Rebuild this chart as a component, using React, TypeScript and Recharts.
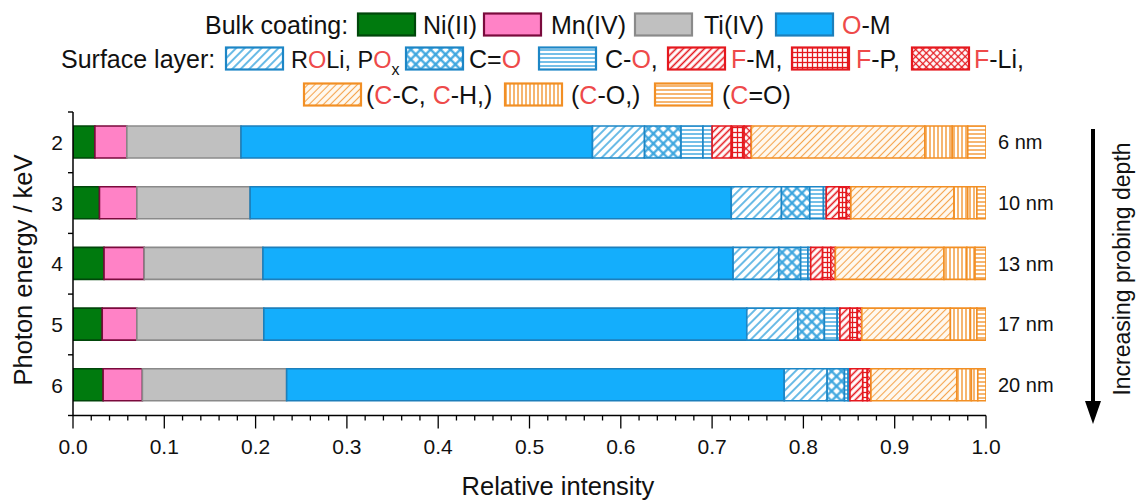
import React from "react";
import { BarChart, Bar, XAxis, YAxis, LabelList } from "recharts";

// photon energy (keV) categories and the probing depth written on the right
const energies = ["2", "3", "4", "5", "6"];
const depths = ["6 nm", "10 nm", "13 nm", "17 nm", "20 nm"];

// bulk coating
const niII = [0.024, 0.029, 0.034, 0.032, 0.033];
const mnIV = [0.035, 0.041, 0.044, 0.038, 0.043];
const tiIV = [0.125, 0.124, 0.130, 0.139, 0.158];
const oM = [0.385, 0.527, 0.515, 0.529, 0.545];
// surface layer, O 1s side
const roli = [0.057, 0.055, 0.050, 0.056, 0.047];
const cdoO = [0.040, 0.031, 0.024, 0.029, 0.019];
const coO1 = [0.024, 0.015, 0.008, 0.014, 0.004];
const coO2 = [0.010, 0.003, 0.003, 0.003, 0.002];
// F 1s
const fM = [0.021, 0.014, 0.013, 0.011, 0.014];
const fP = [0.014, 0.008, 0.009, 0.008, 0.005];
const fLi = [0.008, 0.005, 0.005, 0.005, 0.004];
// C 1s
const ccC = [0.190, 0.113, 0.119, 0.097, 0.094];
const coC1 = [0.030, 0.015, 0.025, 0.022, 0.016];
const coC2 = [0.017, 0.010, 0.009, 0.007, 0.007];
const cdoC = [0.020, 0.010, 0.012, 0.010, 0.009];

const xTicks = Array.from({ length: 51 }, (_, i) => i / 50);

const FONT = "'Liberation Sans', Arial, Helvetica, sans-serif";
const RED_TXT = "#ee4a4a";
const W = 1136;
const H = 503;
const MARGIN = { top: 112, right: 150, bottom: 57.5, left: 13 };
const Y_AXIS_W = 60;
const X_AXIS_H = 30;
const PLOT_H = H - MARGIN.top - MARGIN.bottom - X_AXIS_H;
const HALF_BAND = PLOT_H / energies.length / 2;

const BLUE_LINE = "#38a4de";
const BLUE_EDGE = "#1d86c6";
const RED = "#e5181e";
const ORANGE = "#f28f24";

const series = [
  { key: "ni", vals: niII, fill: "#007a0e", stroke: "#00470a" },
  { key: "mn", vals: mnIV, fill: "#ff82c6", stroke: "#7a0a3c" },
  { key: "ti", vals: tiIV, fill: "#c0c0c0", stroke: "#8a8a8a" },
  { key: "om", vals: oM, fill: "#14aefc", stroke: "#1c7fbb" },
  { key: "roli", vals: roli, fill: "url(#pRoli)", stroke: BLUE_EDGE },
  { key: "cdoO", vals: cdoO, fill: "url(#pCdoO)", stroke: BLUE_EDGE },
  { key: "coO1", vals: coO1, fill: "url(#pCoO)", stroke: BLUE_EDGE },
  { key: "coO2", vals: coO2, fill: "url(#pCoO)", stroke: BLUE_EDGE },
  { key: "fM", vals: fM, fill: "url(#pFM)", stroke: RED },
  { key: "fP", vals: fP, fill: "url(#pFP)", stroke: RED },
  { key: "fLi", vals: fLi, fill: "url(#pFLi)", stroke: RED },
  { key: "ccC", vals: ccC, fill: "url(#pCC)", stroke: ORANGE },
  { key: "coC1", vals: coC1, fill: "url(#pCoC)", stroke: ORANGE },
  { key: "coC2", vals: coC2, fill: "url(#pCoC)", stroke: ORANGE },
  { key: "cdoC", vals: cdoC, fill: "url(#pCdoC)", stroke: ORANGE },
];

const rows = energies.map((e, i) => {
  const r: any = { energy: e, depth: depths[i] };
  series.forEach((s) => (r[s.key] = s.vals[i]));
  return r;
});

const YTick = (props: any) => {
  const { x, y, payload, index } = props;
  const last = index === energies.length - 1;
  return (
    <g>
      <line x1={x - 5} x2={x} y1={y - HALF_BAND} y2={y - HALF_BAND} stroke="#000" strokeWidth={1.4} />
      {last && <line x1={x - 5} x2={x} y1={y + HALF_BAND} y2={y + HALF_BAND} stroke="#000" strokeWidth={1.4} />}
      <text x={x - 10} y={y} dy="0.36em" textAnchor="end" fontSize={21} fontFamily={FONT} fill="#111">
        {payload.value}
      </text>
    </g>
  );
};

const XTick = (props: any) => {
  const { x, y, payload } = props;
  const v = payload.value;
  const major = Math.round(v * 50) % 5 === 0;
  return (
    <g>
      <line x1={x} x2={x} y1={y} y2={y + (major ? 13 : 5)} stroke="#000" strokeWidth={1.3} />
      {major && (
        <text x={x} y={y + 38.5} textAnchor="middle" fontSize={21} fontFamily={FONT} fill="#111">
          {v.toFixed(1)}
        </text>
      )}
    </g>
  );
};

const Lines = ({ id, size, color, w, bg = "#fff", rot = 0, v = false, h = false }: any) => (
  <pattern id={id} width={size} height={size} patternUnits="userSpaceOnUse" patternTransform={rot ? `rotate(${rot})` : undefined}>
    <rect width={size} height={size} fill={bg} />
    {v && <line x1={size / 2} x2={size / 2} y1={0} y2={size} stroke={color} strokeWidth={w} />}
    {h && <line x1={0} x2={size} y1={size / 2} y2={size / 2} stroke={color} strokeWidth={w} />}
  </pattern>
);

const Swatch = ({ x, y, fill, stroke }: any) => (
  <rect x={x} y={y - 11} width={57} height={22} fill={fill} stroke={stroke} strokeWidth={2.2} />
);

const R = ({ children }: any) => <tspan fill={RED_TXT}>{children}</tspan>;

const LegendText = ({ x, y, size = 25, children }: any) => (
  <text x={x} y={y + 9} fontSize={size} fontFamily={FONT} fill="#111">
    {children}
  </text>
);

const Overlay = () => {
  const r1 = 24.5;
  const r2 = 58.5;
  const r3 = 94.5;
  return (
    <svg width={W} height={H} style={{ position: "absolute", left: 0, top: 0, pointerEvents: "none" }}>
      <defs>
        <Lines id="pRoli" size={6} color={BLUE_LINE} w={1.5} rot={45} v />
        <Lines id="pCdoO" size={7} color={BLUE_LINE} w={2.2} rot={45} v h />
        <Lines id="pCoO" size={4} color={BLUE_LINE} w={1.4} h />
        <Lines id="pFM" size={5} color={RED} w={1.6} rot={45} v />
        <Lines id="pFP" size={5} color={RED} w={1.3} v h />
        <Lines id="pFLi" size={5} color={RED} w={1.3} rot={45} v h />
        <Lines id="pCC" size={5} color="#f5a550" w={1.1} bg="#fff9f0" rot={45} v />
        <Lines id="pCoC" size={4} color={ORANGE} w={1.3} v />
        <Lines id="pCdoC" size={4} color={ORANGE} w={1.3} h />
      </defs>

      <LegendText x={205} y={r1}>Bulk coating:</LegendText>
      <Swatch x={358} y={r1} fill="#007a0e" stroke="#00470a" />
      <LegendText x={423} y={r1}>Ni(II)</LegendText>
      <Swatch x={484} y={r1} fill="#ff82c6" stroke="#7a0a3c" />
      <LegendText x={551} y={r1}>Mn(IV)</LegendText>
      <Swatch x={635} y={r1} fill="#c0c0c0" stroke="#8a8a8a" />
      <LegendText x={704} y={r1}>Ti(IV)</LegendText>
      <Swatch x={776} y={r1} fill="#14aefc" stroke="#1c7fbb" />
      <LegendText x={842} y={r1}><R>O</R>-M</LegendText>

      <LegendText x={61} y={r2}>Surface layer:</LegendText>
      <Swatch x={226} y={r2} fill="url(#pRoli)" stroke={BLUE_EDGE} />
      <LegendText x={291} y={r2} size={23.5}>
        R<R>O</R>Li, P<R>O</R>
        <tspan dy={7} fontSize={16}>x</tspan>
      </LegendText>
      <Swatch x={406} y={r2} fill="url(#pCdoO)" stroke={BLUE_EDGE} />
      <LegendText x={469} y={r2}>C=<R>O</R></LegendText>
      <Swatch x={539} y={r2} fill="url(#pCoO)" stroke={BLUE_EDGE} />
      <LegendText x={605} y={r2}>C-<R>O</R>,</LegendText>
      <Swatch x={668} y={r2} fill="url(#pFM)" stroke={RED} />
      <LegendText x={731} y={r2}><R>F</R>-M,</LegendText>
      <Swatch x={792} y={r2} fill="url(#pFP)" stroke={RED} />
      <LegendText x={856} y={r2}><R>F</R>-P,</LegendText>
      <Swatch x={912} y={r2} fill="url(#pFLi)" stroke={RED} />
      <LegendText x={974} y={r2}><R>F</R>-Li,</LegendText>

      <Swatch x={304} y={r3} fill="url(#pCC)" stroke={ORANGE} />
      <LegendText x={366} y={r3}>(<R>C</R>-C, <R>C</R>-H,)</LegendText>
      <Swatch x={505} y={r3} fill="url(#pCoC)" stroke={ORANGE} />
      <LegendText x={571} y={r3}>(<R>C</R>-O,)</LegendText>
      <Swatch x={655} y={r3} fill="url(#pCdoC)" stroke={ORANGE} />
      <LegendText x={722} y={r3}>(<R>C</R>=O)</LegendText>

      <text x={31.5} y={270} transform="rotate(-90 31.5 270)" textAnchor="middle" fontSize={25.5} fontFamily={FONT} fill="#111">
        Photon energy / keV
      </text>
      <text x={558} y={495} textAnchor="middle" fontSize={25.5} fontFamily={FONT} fill="#111">
        Relative intensity
      </text>

      <line x1={1093} x2={1093} y1={129} y2={404} stroke="#000" strokeWidth={4} />
      <polygon points="1085,401 1101,401 1093,424" fill="#000" />
      <text x={1129.5} y={269} transform="rotate(-90 1129.5 269)" textAnchor="middle" fontSize={23} fontFamily={FONT} fill="#111">
        Increasing probing depth
      </text>
    </svg>
  );
};

export default function App() {
  return (
    <div style={{ position: "absolute", left: 0, top: 0, width: W, height: H, background: "#fff" }}>
      <BarChart width={W} height={H} data={rows} layout="vertical" margin={MARGIN} barSize={32}>
        <XAxis
          type="number"
          domain={[0, 1]}
          allowDataOverflow
          ticks={xTicks}
          interval={0}
          height={X_AXIS_H}
          tickSize={0}
          tickMargin={0}
          tickLine={false}
          tick={<XTick />}
          axisLine={{ stroke: "#000", strokeWidth: 1.5 }}
        />
        <YAxis
          type="category"
          dataKey="energy"
          width={Y_AXIS_W}
          tickSize={0}
          tickMargin={0}
          tickLine={false}
          tick={<YTick />}
          axisLine={{ stroke: "#000", strokeWidth: 1.5 }}
        />
        {series.map((s, i) => (
          <Bar
            key={s.key}
            dataKey={s.key}
            stackId="a"
            fill={s.fill}
            stroke={s.stroke}
            strokeWidth={1.6}
            isAnimationActive={false}
          >
            {i === series.length - 1 && (
              <LabelList dataKey="depth" position="right" offset={12} fontSize={20} fontFamily={FONT} fill="#111" />
            )}
          </Bar>
        ))}
      </BarChart>
      <Overlay />
    </div>
  );
}
